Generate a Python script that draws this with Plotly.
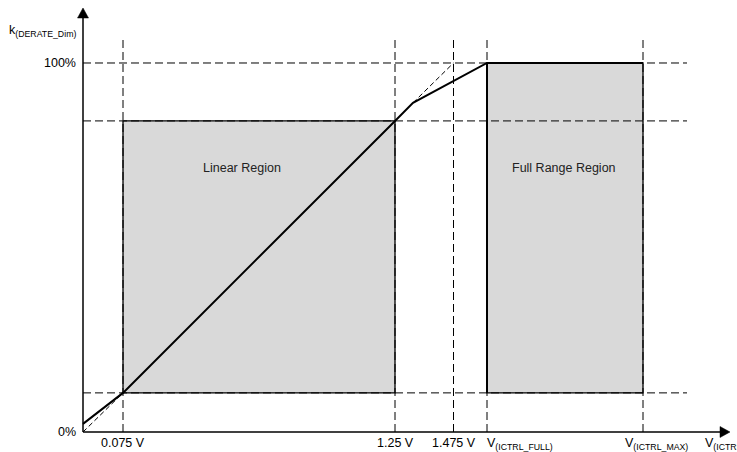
import plotly.graph_objects as go

# ---- schematic data (x in schematic units from origin, y in %) ----
x_marks = [40, 312, 370.5, 404, 560]
x_labels = ["0.075 V", "1.25 V", "1.475 V", "V<sub>(ICTRL_FULL)</sub>", "V<sub>(ICTRL_MAX)</sub>"]
y_levels = [10.6, 84.3, 100]
y_labels = ["0%", "100%"]
y_label_vals = [0, 100]

curve_x = [0, 40, 312, 330, 404, 560]
curve_y = [2.2, 10.6, 84.3, 89.2, 100, 100]

ideal_low_x = [0, 40]
ideal_low_y = [0, 10.6]
ideal_high_x = [330, 370.5]
ideal_high_y = [89.2, 100]

region_names = ["Linear Region", "Full Range Region"]
region_x0 = [40, 404]
region_x1 = [312, 560]
region_y0 = [10.6, 10.6]
region_y1 = [84.3, 100]
region_label_x = [158.5, 481]
region_label_y = [71.5, 71.5]

y_axis_title = "k<sub>(DERATE_Dim)</sub>"
x_axis_title = "V<sub>(ICTRL)</sub>"

# ---- styling ----
FONT = "Arial, Liberation Sans, sans-serif"
FS = 12.5
GRAY = "#d9d9d9"
DASH = "8px,4px"
X_END = 647     # arrow tip of x axis
Y_END = 114.9   # arrow tip of y axis
DASH_TOP = 107.0
DASH_RIGHT = 604

fig = go.Figure()
shapes = []
annotations = []

# region fills
for x0, x1, y0, y1 in zip(region_x0, region_x1, region_y0, region_y1):
    shapes.append(dict(type="rect", xref="x", yref="y", x0=x0, x1=x1, y0=y0, y1=y1,
                       fillcolor=GRAY, line=dict(width=0), layer="below"))

# dashed guides
for xm in x_marks:
    shapes.append(dict(type="line", xref="x", yref="y", x0=xm, x1=xm, y0=0, y1=DASH_TOP,
                       line=dict(color="black", width=1, dash=DASH), layer="below"))
for yl in y_levels:
    shapes.append(dict(type="line", xref="x", yref="y", x0=0, x1=DASH_RIGHT, y0=yl, y1=yl,
                       line=dict(color="black", width=1, dash=DASH), layer="below"))

# region borders
for x0, x1, y0, y1 in zip(region_x0, region_x1, region_y0, region_y1):
    shapes.append(dict(type="rect", xref="x", yref="y", x0=x0, x1=x1, y0=y0, y1=y1,
                       fillcolor="rgba(0,0,0,0)", line=dict(color="black", width=1.3), layer="below"))

# axes lines
shapes.append(dict(type="line", xref="x", yref="y", x0=0, x1=0, y0=0, y1=Y_END - 2,
                   line=dict(color="black", width=1.5)))
shapes.append(dict(type="line", xref="x", yref="y", x0=0, x1=X_END - 8, y0=0, y1=0,
                   line=dict(color="black", width=1.5)))
# arrow heads
shapes.append(dict(type="path", xref="x", yref="y", xsizemode="pixel", ysizemode="pixel",
                   xanchor=0, yanchor=Y_END, path="M -5.5,-10 L 5.5,-10 L 0,0 Z",
                   fillcolor="black", line=dict(color="black", width=0.5)))
shapes.append(dict(type="path", xref="x", yref="y", xsizemode="pixel", ysizemode="pixel",
                   xanchor=X_END, yanchor=0, path="M -10,-5.5 L -10,5.5 L 0,0 Z",
                   fillcolor="black", line=dict(color="black", width=0.5)))

# ideal (dashed) extensions
fig.add_trace(go.Scatter(x=ideal_low_x, y=ideal_low_y, mode="lines",
                         line=dict(color="black", width=1, dash="5px,3px"), hoverinfo="skip"))
fig.add_trace(go.Scatter(x=ideal_high_x, y=ideal_high_y, mode="lines",
                         line=dict(color="black", width=1, dash="5px,3px"), hoverinfo="skip"))
# thick left edge of full-range region
fig.add_trace(go.Scatter(x=[region_x0[1], region_x0[1]], y=[region_y0[1], region_y1[1]], mode="lines",
                         line=dict(color="black", width=2), hoverinfo="skip"))
# main curve
fig.add_trace(go.Scatter(x=curve_x, y=curve_y, mode="lines",
                         line=dict(color="black", width=2), hoverinfo="skip"))

# x tick labels
x_anchor = ["center", "center", "center", "left", "left"]
x_shift = [0, 0, 0, -2, -20]
for xm, lab, xa, xs in zip(x_marks, x_labels, x_anchor, x_shift):
    annotations.append(dict(x=xm, y=0, xref="x", yref="y", text=lab, showarrow=False,
                            xanchor=xa, yanchor="top", xshift=xs, yshift=-2,
                            font=dict(family=FONT, size=FS, color="black")))
# x axis title (cut off at right edge)
annotations.append(dict(x=620, y=0, xref="x", yref="y", text=x_axis_title, showarrow=False,
                        xanchor="left", yanchor="top", yshift=-2,
                        font=dict(family=FONT, size=FS, color="black")))
# y labels
for yv, lab in zip(y_label_vals, y_labels):
    annotations.append(dict(x=0, y=yv, xref="x", yref="y", text=lab, showarrow=False,
                            xanchor="right", yanchor="middle", xshift=-5,
                            font=dict(family=FONT, size=FS, color="black")))
annotations.append(dict(x=0, y=108.7, xref="x", yref="y", text=y_axis_title, showarrow=False,
                        xanchor="right", yanchor="middle", xshift=-5,
                        font=dict(family=FONT, size=FS, color="black")))
# region labels
for nm, lx, ly in zip(region_names, region_label_x, region_label_y):
    annotations.append(dict(x=lx, y=ly, xref="x", yref="y", text=nm, showarrow=False,
                            xanchor="center", yanchor="middle",
                            font=dict(family=FONT, size=FS, color="#222222")))

fig.update_layout(
    width=737, height=452, autosize=False,
    margin=dict(l=0, r=0, t=0, b=0, pad=0),
    paper_bgcolor="white", plot_bgcolor="white",
    showlegend=False,
    xaxis=dict(range=[-83, 654], visible=False, fixedrange=True),
    yaxis=dict(range=[-5.42, 117.07], visible=False, fixedrange=True),
    shapes=shapes, annotations=annotations,
)

fig.write_html("out.html", config={"displayModeBar": False},
               post_script="document.body.style.margin='0px';document.body.style.overflow='hidden';")
